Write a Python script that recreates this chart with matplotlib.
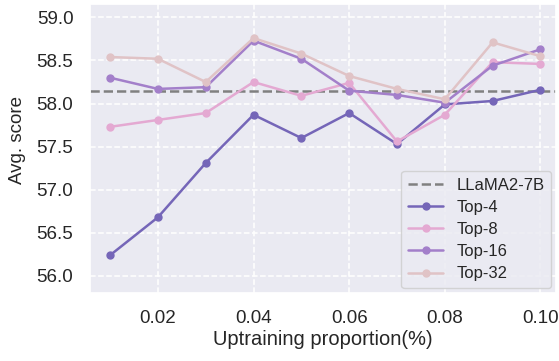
import matplotlib
matplotlib.use('Agg')
import matplotlib.pyplot as plt
import seaborn as sns

sns.set_theme(style='darkgrid')
plt.rcParams['font.family'] = ['Liberation Sans', 'DejaVu Sans']

# uptraining proportion (%)
x = [0.01, 0.02, 0.03, 0.04, 0.05, 0.06, 0.07, 0.08, 0.09, 0.10]

top4 = [56.24, 56.68, 57.31, 57.87, 57.60, 57.89, 57.53, 57.99, 58.03, 58.16]
top8 = [57.73, 57.81, 57.89, 58.25, 58.09, 58.24, 57.56, 57.87, 58.48, 58.46]
top16 = [58.30, 58.17, 58.19, 58.73, 58.52, 58.15, 58.10, 58.01, 58.44, 58.63]
top32 = [58.54, 58.52, 58.25, 58.76, 58.58, 58.32, 58.17, 58.05, 58.71, 58.55]
baseline = 58.15

fig, ax = plt.subplots(figsize=(5.59, 3.61), dpi=100)

ax.axhline(baseline, color='gray', ls='--', lw=1.8, label='LLaMA2-7B')
ax.plot(x, top4, marker='o', ms=5, lw=1.8, color='#7566b8', label='Top-4')
ax.plot(x, top8, marker='o', ms=5, lw=1.8, color='#e4a9d2', label='Top-8')
ax.plot(x, top16, marker='o', ms=5, lw=1.8, color='#a37fca', label='Top-16')
ax.plot(x, top32, marker='o', ms=5, lw=1.8, color='#e0c3c6', label='Top-32')

ax.set_xlim(0.0058, 0.1033)
ax.set_ylim(55.8, 59.16)
ax.set_xticks([0.02, 0.04, 0.06, 0.08, 0.10])
ax.set_xticklabels(['0.02', '0.04', '0.06', '0.08', '0.10'])
ax.set_yticks([56.0, 56.5, 57.0, 57.5, 58.0, 58.5, 59.0])
ax.tick_params(labelsize=13.5, pad=6)
ax.grid(True, color='white', ls='--', lw=1.1)

ax.set_xlabel('Uptraining proportion(%)', fontsize=14.5, labelpad=2)
ax.set_ylabel('Avg. score', fontsize=13.5)
ax.yaxis.set_label_coords(-0.137, 0.528)
ax.legend(loc='lower right', fontsize=12, handlelength=2.1,
          labelspacing=0.43, borderaxespad=0.3)

fig.subplots_adjust(left=0.161, right=0.995, top=0.99, bottom=0.188)
fig.savefig('out.png', dpi=100)
